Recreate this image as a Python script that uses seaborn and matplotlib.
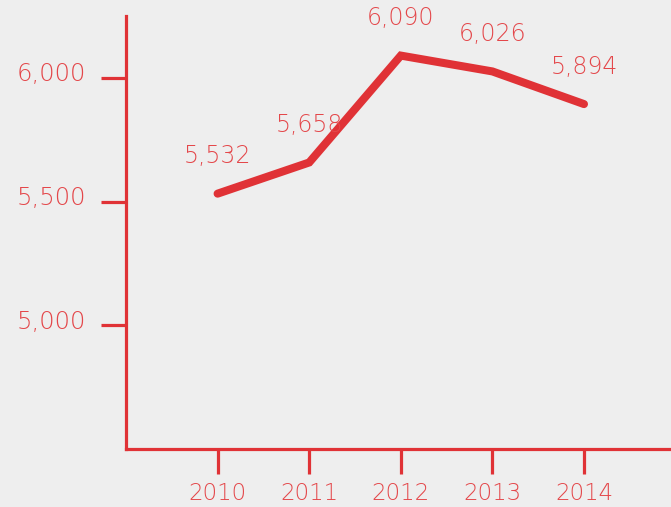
import matplotlib
matplotlib.use("Agg")
import matplotlib.pyplot as plt
import matplotlib.transforms as mtransforms
import seaborn as sns
import pandas as pd

years = [2010, 2011, 2012, 2013, 2014]
values = [5532, 5658, 6090, 6026, 5894]
value_labels = ["5,532", "5,658", "6,090", "6,026", "5,894"]
y_ticks = [5000, 5500, 6000]
y_tick_labels = ["5,000", "5,500", "6,000"]
x_tick_labels = ["2010", "2011", "2012", "2013", "2014"]

sns.set_style("white")
plt.rcParams["font.family"] = ["DejaVu Sans"]

LINE = "#e03236"
TEXT = "#e4474a"
BG = "#eeeeee"

df = pd.DataFrame({"year": years, "value": values})

fig = plt.figure(figsize=(6.71, 5.07), dpi=100, facecolor=BG)
ax = fig.add_axes([126 / 671, (507 - 449) / 507, 1 - 126 / 671, (449 - 16) / 507])
ax.set_facecolor(BG)

sns.lineplot(data=df, x="year", y="value", ax=ax, color=LINE, linewidth=5.8,
             solid_capstyle="round", solid_joinstyle="miter")

for x, v, lab in zip(years, values, value_labels):
    ax.annotate(lab, (x, v), xytext=(0, 27), textcoords="offset points",
                ha="center", va="center", color=TEXT, fontsize=17,
                fontweight="light")

ax.set_xlim(2009, 2014.95)
ax.set_ylim(4500, 6250)
ax.set_xticks(years)
ax.set_xticklabels(x_tick_labels)
ax.set_yticks(y_ticks)
ax.set_yticklabels(y_tick_labels)
ax.set_xlabel("")
ax.set_ylabel("")

for s in ["top", "right"]:
    ax.spines[s].set_visible(False)
for s in ["left", "bottom"]:
    ax.spines[s].set_color(LINE)
    ax.spines[s].set_linewidth(2.3)

ax.tick_params(axis="both", which="both", direction="out", length=18, width=2.3,
               color=LINE, labelcolor=TEXT, labelsize=17.5,
               bottom=True, left=True)
ax.tick_params(axis="y", pad=11)
ax.tick_params(axis="x", pad=6, labelsize=16.5)
for lbl in ax.get_yticklabels():
    lbl.set_fontweight("light")
    lbl.set_transform(lbl.get_transform() + mtransforms.ScaledTranslation(0, 6 / 100, fig.dpi_scale_trans))
for lbl in ax.get_xticklabels():
    lbl.set_fontweight("light")

fig.savefig("out.png", dpi=100, facecolor=BG)
